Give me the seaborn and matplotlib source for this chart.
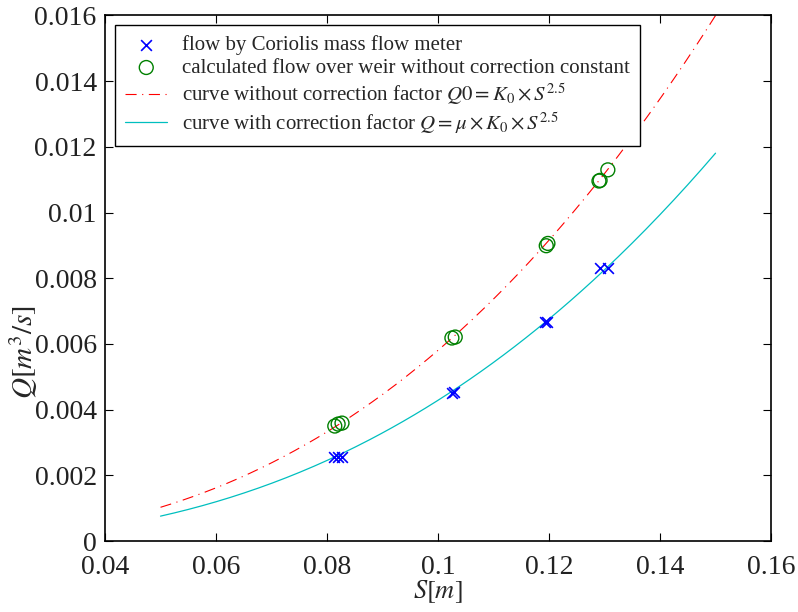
import numpy as np
import pandas as pd
import matplotlib
matplotlib.use("Agg")
import matplotlib.pyplot as plt
import seaborn as sns

# ---- data ----
s_meter = [0.0813, 0.0820, 0.0827, 0.1025, 0.1029, 0.1193, 0.1196, 0.1292, 0.1306]
q_meter = [0.00256, 0.00256, 0.00257, 0.00452, 0.00454, 0.00666, 0.00668, 0.00830, 0.00830]

s_weir = [0.0814, 0.0820, 0.0827, 0.1025, 0.1031, 0.1195, 0.1198, 0.1290, 0.1292, 0.1306]
q_weir = [0.00350, 0.00356, 0.00359, 0.00618, 0.00621, 0.00899, 0.00906, 0.01096, 0.01098, 0.01130]

K0 = 1.836          # constant of Q0 = K0 * S^2.5
MU = 0.738          # correction factor
S_MIN, S_MAX = 0.05, 0.15

xticks = [0.04, 0.06, 0.08, 0.10, 0.12, 0.14, 0.16]
xtick_labels = ["0.04", "0.06", "0.08", "0.1", "0.12", "0.14", "0.16"]
yticks = [0, 0.002, 0.004, 0.006, 0.008, 0.010, 0.012, 0.014, 0.016]
ytick_labels = ["0", "0.002", "0.004", "0.006", "0.008", "0.01", "0.012", "0.014", "0.016"]

labels = [
    "flow by Coriolis mass flow meter",
    "calculated flow over weir without correction constant",
    r"curve without correction factor $Q0 = K_0 \times S^{2.5}$",
    r"curve with correction factor $Q = \mu \times K_0 \times S^{2.5}$",
]

# ---- style ----
sns.set_style("ticks")
plt.rcParams["font.family"] = ["Liberation Serif", "DejaVu Serif"]
plt.rcParams["mathtext.fontset"] = "stix"

fig = plt.figure(figsize=(7.98, 6.12), dpi=100)
ax = fig.add_axes([0.1316, 0.1160, 0.9662 - 0.1316, 0.9747 - 0.1160])

s_curve = np.linspace(S_MIN, S_MAX, 200)
df_curve = pd.DataFrame({"S": s_curve,
                         "Q0": K0 * s_curve ** 2.5,
                         "Q": MU * K0 * s_curve ** 2.5})

sns.scatterplot(x=s_meter, y=q_meter, ax=ax, marker="x", color="b", s=60,
                linewidth=1.2, label=labels[0], zorder=3)
sns.scatterplot(x=s_weir, y=q_weir, ax=ax, marker="o", s=100, facecolor="none",
                edgecolor="g", linewidth=1.0, label=labels[1], zorder=3)
sns.lineplot(data=df_curve, x="S", y="Q0", ax=ax, color="red", linewidth=0.8,
             dashes=False, label=labels[2], zorder=2)
ax.lines[-1].set_linestyle((0, (10, 5, 1, 5)))
sns.lineplot(data=df_curve, x="S", y="Q", ax=ax, color="c", linewidth=0.9,
             label=labels[3], zorder=2)

ax.set_xlim(0.04, 0.16)
ax.set_ylim(0, 0.016)
ax.set_xticks(xticks)
ax.set_xticklabels(xtick_labels)
ax.set_yticks(yticks)
ax.set_yticklabels(ytick_labels)
ax.tick_params(direction="in", length=6, width=0.8, labelsize=20,
               top=True, right=True, colors="black", labelcolor="#222222")
ax.tick_params(axis="x", pad=10)
ax.tick_params(axis="y", pad=6)
for sp in ax.spines.values():
    sp.set_visible(True)
    sp.set_linewidth(1.2)
    sp.set_color("black")

ax.set_xlabel(r"$S[m]$", fontsize=19)
ax.set_ylabel(r"$Q[m^3/s]$", fontsize=21)
ax.xaxis.set_label_coords(0.5, -0.07)
ax.yaxis.set_label_coords(-0.098, 0.36)

leg = ax.legend(loc="upper left", bbox_to_anchor=(0.015, 0.982), borderaxespad=0,
                fontsize=15, frameon=True, fancybox=False, edgecolor="black",
                framealpha=1, handlelength=2.0, handletextpad=0.7,
                labelspacing=0.15, borderpad=0.5, scatterpoints=1)
leg.get_frame().set_linewidth(1.0)

fig.savefig("out.png", dpi=100)
